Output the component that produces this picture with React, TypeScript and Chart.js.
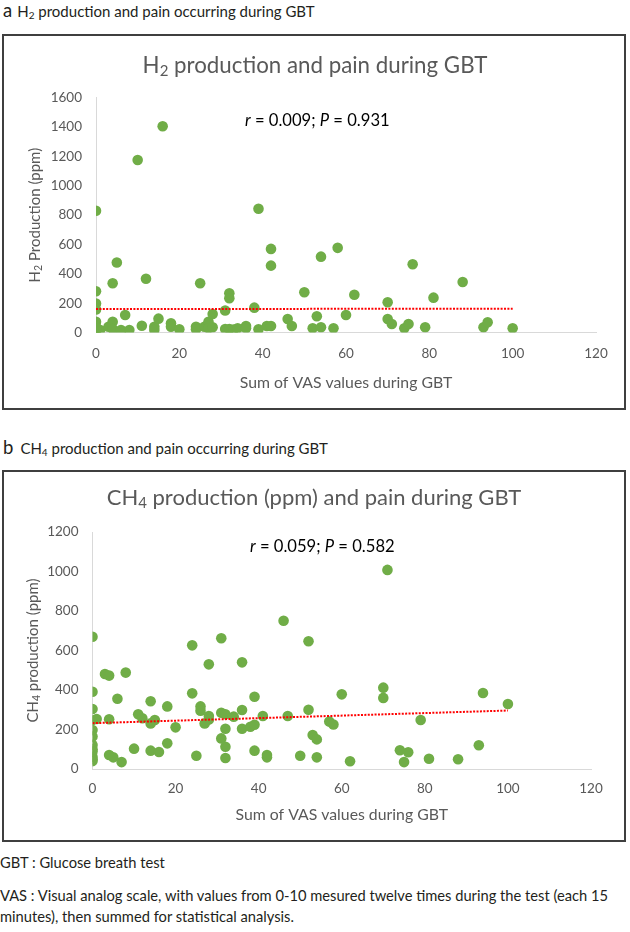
import React, { useEffect, useRef } from 'react';
import { Chart, registerables } from 'chart.js';

Chart.register(...registerables);

const FONT = 'Lato, "Open Sans", sans-serif';
const AXIS_GRAY = '#595959';
const GREEN = '#70ad47';

// ---- Data: panel a (H2 production vs sum of VAS) ----
const h2VAS = [
  0, 0, 0, 0, 0, 0, 0, 0, 1, 0,
  3, 4, 4, 4, 5, 6, 7, 8, 10, 11,
  12, 14, 14, 15, 16, 18, 18, 20, 24, 24,
  25, 26, 27, 27, 28, 28, 31, 32, 32, 31,
  32, 33, 34, 36, 36, 38, 39, 39, 41, 42,
  42, 42, 46, 47, 50, 52, 53, 54, 54, 57,
  58, 60, 62, 70, 70, 71, 74, 75, 76, 79,
  81, 88, 93, 94, 100,
];
const h2PPM = [
  830, 282, 198, 158, 74, 40, 20, 8, 18, 30,
  40, 74, 25, 336, 477, 18, 120, 18, 1175, 47,
  367, 40, 18, 95, 1405, 63, 40, 22, 40, 22,
  336, 40, 74, 30, 127, 36, 150, 268, 234, 25,
  25, 20, 30, 45, 30, 170, 22, 843, 45, 570,
  456, 45, 93, 45, 275, 29, 111, 36, 517, 29,
  577, 120, 258, 207, 93, 59, 29, 59, 465, 36,
  238, 345, 36, 70, 30,
];
const h2TrendVAS = [0, 100];
const h2TrendPPM = [160, 163];
const h2YTicks = [0, 200, 400, 600, 800, 1000, 1200, 1400, 1600];

// ---- Data: panel b (CH4 production vs sum of VAS) ----
const ch4VAS = [
  0, 0, 0, 0, 1, 0, 0, 0, 0, 0,
  0, 0, 0, 3, 4, 8, 6, 4, 4, 5,
  7, 10, 11, 12, 14, 14, 15, 14, 16, 18,
  18, 20, 24, 24, 25, 26, 26, 28, 28, 28,
  27, 31, 31, 32, 31, 32, 32, 32, 34, 36,
  36, 36, 38, 39, 39, 39, 41, 42, 42, 46,
  47, 50, 52, 52, 53, 54, 54, 57, 58, 60,
  62, 70, 70, 71, 74, 76, 75, 79, 81, 88,
  93, 94, 100,
];
const ch4PPM = [
  670, 391, 304, 248, 253, 197, 164, 122, 100, 88,
  62, 40, 50, 481, 473, 488, 356, 252, 71, 59,
  35, 103, 277, 257, 343, 231, 248, 93, 86, 317,
  130, 211, 626, 383, 67, 317, 295, 530, 268, 250,
  231, 662, 285, 277, 155, 204, 113, 56, 265, 540,
  299, 204, 214, 366, 224, 93, 268, 71, 59, 751,
  268, 67, 647, 300, 172, 150, 59, 240, 225, 378,
  39, 412, 360, 1008, 95, 85, 35, 248, 52, 49,
  120, 385, 329,
];
const ch4TrendVAS = [0, 100];
const ch4TrendPPM = [232, 296];
const ch4YTicks = [0, 200, 400, 600, 800, 1000, 1200];

const xTicks = [0, 20, 40, 60, 80, 100, 120];

type Run = { t: string; size: number; italic?: boolean; dy?: number };

function fontStr(r: Run) {
  return `${r.italic ? 'italic ' : ''}${r.size}px ${FONT}`;
}

function drawRuns(ctx: CanvasRenderingContext2D, runs: Run[], x: number, y: number, align: 'center' | 'left') {
  const widths = runs.map((r) => {
    ctx.font = fontStr(r);
    return ctx.measureText(r.t).width;
  });
  const total = widths.reduce((a, b) => a + b, 0);
  let cx = align === 'center' ? x - total / 2 : x;
  runs.forEach((r, i) => {
    ctx.font = fontStr(r);
    ctx.fillText(r.t, cx, y + (r.dy || 0));
    cx += widths[i];
  });
}

const overlayPlugin = {
  id: 'overlay',
  afterDraw(chart: any, _args: any, opts: any) {
    const ctx: CanvasRenderingContext2D = chart.ctx;
    const area = chart.chartArea;
    ctx.save();
    ctx.textAlign = 'left';
    ctx.textBaseline = 'alphabetic';
    // chart title
    ctx.fillStyle = AXIS_GRAY;
    drawRuns(ctx, opts.title, chart.width / 2 + (opts.titleDx || 0), opts.titleY, 'center');
    // statistics text
    ctx.fillStyle = '#000000';
    drawRuns(ctx, opts.stat, opts.statX, opts.statY, 'left');
    // y axis title (rotated)
    ctx.fillStyle = AXIS_GRAY;
    ctx.translate(opts.yTitleX, (area.top + area.bottom) / 2);
    ctx.rotate(-Math.PI / 2);
    drawRuns(ctx, opts.yTitle, 0, 0, 'center');
    ctx.restore();
  },
};

type PanelProps = {
  xs: number[];
  ys: number[];
  tx: number[];
  ty: number[];
  yTicks: number[];
  width: number;
  height: number;
  area: { left: number; top: number; right: number; bottom: number };
  yPad: number;
  xPad: number;
  xTitlePad: number;
  overlay: any;
};

function Panel(p: PanelProps) {
  const ref = useRef<HTMLCanvasElement | null>(null);
  useEffect(() => {
    if (!ref.current) return;
    const yMax = p.yTicks[p.yTicks.length - 1];
    const yStep = p.yTicks[1] - p.yTicks[0];
    const chart = new Chart(ref.current, {
      type: 'scatter',
      data: {
        datasets: [
          {
            label: 'points',
            data: p.xs.map((x, i) => ({ x, y: p.ys[i] })),
            backgroundColor: GREEN,
            borderWidth: 0,
            pointRadius: 5.3,
            pointHoverRadius: 5.3,
            order: 1,
          },
          {
            label: 'trend',
            data: p.tx.map((x, i) => ({ x, y: p.ty[i] })),
            showLine: true,
            borderColor: '#ff0000',
            borderWidth: 2,
            borderDash: [2, 1.4],
            pointRadius: 0,
            fill: false,
            order: 0,
          } as any,
        ],
      },
      options: {
        animation: false,
        responsive: false,
        maintainAspectRatio: false,
        events: [],
        layout: {
          padding: {
            left: 0,
            top: p.area.top,
            right: p.width - p.area.right,
            bottom: 0,
          },
        },
        plugins: {
          legend: { display: false },
          tooltip: { enabled: false },
          title: { display: false },
          overlay: p.overlay,
        } as any,
        scales: {
          x: {
            type: 'linear',
            min: xTicks[0],
            max: xTicks[xTicks.length - 1],
            ticks: {
              stepSize: xTicks[1] - xTicks[0],
              color: AXIS_GRAY,
              font: { family: FONT, size: 13.5 },
              padding: p.xPad,
              maxRotation: 0,
              callback: (v: any) => String(v),
            },
            grid: { display: false, drawTicks: false },
            border: { display: true, color: '#d9d9d9', width: 1 },
            title: {
              display: true,
              text: 'Sum of VAS values during GBT',
              color: AXIS_GRAY,
              font: { family: FONT, size: 15.8 },
              padding: { top: 0, bottom: p.xTitlePad },
            },
            afterFit: (s: any) => {
              s.height = p.height - p.area.bottom;
            },
          },
          y: {
            type: 'linear',
            min: 0,
            max: yMax,
            ticks: {
              stepSize: yStep,
              color: AXIS_GRAY,
              font: { family: FONT, size: 13.5 },
              padding: p.yPad,
              callback: (v: any) => String(v),
            },
            grid: { display: false, drawTicks: false },
            border: { display: true, color: '#d9d9d9', width: 1 },
            afterFit: (s: any) => {
              s.width = p.area.left;
            },
          },
        },
      },
      plugins: [overlayPlugin as any],
    });
    return () => chart.destroy();
  }, []);
  return <canvas ref={ref} width={p.width} height={p.height} style={{ display: 'block', width: p.width, height: p.height }} />;
}

const boxStyle = (top: number, height: number): React.CSSProperties => ({
  position: 'absolute',
  left: 2,
  top,
  width: 624,
  height,
  boxSizing: 'border-box',
  border: '2px solid #3f3f3f',
  background: '#ffffff',
});

const textColor = '#231f20';

export default function App() {
  return (
    <div style={{ position: 'relative', width: 630, height: 932, fontFamily: FONT, color: textColor, overflow: 'hidden', background: '#fff' }}>
      <style>{'body{margin:0;}'}</style>
      <div style={{ position: 'absolute', left: 3, top: 0, height: 20, lineHeight: '20px', whiteSpace: 'nowrap', fontSize: 15 }}>
        <span style={{ fontSize: 18.5, marginRight: 5 }}>a</span>
        H<sub style={{ fontSize: 10, verticalAlign: 'baseline', position: 'relative', top: 2 }}>2</sub> production and pain occurring during GBT
      </div>
      <div style={boxStyle(34, 376)}>
        <Panel
          xs={h2VAS}
          ys={h2PPM}
          tx={h2TrendVAS}
          ty={h2TrendPPM}
          yTicks={h2YTicks}
          width={620}
          height={372}
          area={{ left: 92, top: 61.6, right: 592, bottom: 296.6 }}
          yPad={14}
          xPad={13}
          xTitlePad={16}
          overlay={{
            title: [
              { t: 'H', size: 22.3 },
              { t: '2', size: 15, dy: 3 },
              { t: ' production and pain during GBT', size: 22.3 },
            ],
            titleY: 37,
            titleDx: 1,
            stat: [
              { t: 'r', size: 16.6, italic: true },
              { t: ' = 0.009; ', size: 16.6 },
              { t: 'P', size: 16.6, italic: true },
              { t: ' = 0.931', size: 16.6 },
            ],
            statX: 241,
            statY: 90,
            yTitle: [
              { t: 'H', size: 15 },
              { t: '2', size: 10.5, dy: 2 },
              { t: ' Production (ppm)', size: 15 },
            ],
            yTitleX: 36,
          }}
        />
      </div>
      <div style={{ position: 'absolute', left: 3, top: 437, height: 20, lineHeight: '20px', whiteSpace: 'nowrap', fontSize: 15 }}>
        <span style={{ fontSize: 18.5, marginRight: 7 }}>b</span>
        CH<sub style={{ fontSize: 10, verticalAlign: 'baseline', position: 'relative', top: 2 }}>4</sub> production and pain occurring during GBT
      </div>
      <div style={boxStyle(470, 372)}>
        <Panel
          xs={ch4VAS}
          ys={ch4PPM}
          tx={ch4TrendVAS}
          ty={ch4TrendPPM}
          yTicks={ch4YTicks}
          width={620}
          height={368}
          area={{ left: 88.5, top: 60, right: 587, bottom: 297 }}
          yPad={14}
          xPad={12}
          xTitlePad={16}
          overlay={{
            title: [
              { t: 'CH', size: 22 },
              { t: '4', size: 15, dy: 3 },
              { t: ' production (ppm) and pain during GBT', size: 22 },
            ],
            titleY: 33,
            titleDx: 0,
            stat: [
              { t: 'r', size: 16.6, italic: true },
              { t: ' = 0.059; ', size: 16.6 },
              { t: 'P', size: 16.6, italic: true },
              { t: ' = 0.582', size: 16.6 },
            ],
            statX: 246,
            statY: 80,
            yTitle: [
              { t: 'CH', size: 15 },
              { t: '4', size: 10.5, dy: 2 },
              { t: ' production (ppm)', size: 15 },
            ],
            yTitleX: 34,
          }}
        />
      </div>
      <div style={{ position: 'absolute', left: 0, top: 852, lineHeight: '20px', fontSize: 14.7, whiteSpace: 'nowrap' }}>
        GBT : Glucose breath test
      </div>
      <div style={{ position: 'absolute', left: 0, top: 885, width: 630, lineHeight: '21px', fontSize: 14.7 }}>
        VAS : Visual analog scale, with values from 0-10 mesured twelve times during the test (each 15 minutes), then summed for statistical analysis.
      </div>
    </div>
  );
}
